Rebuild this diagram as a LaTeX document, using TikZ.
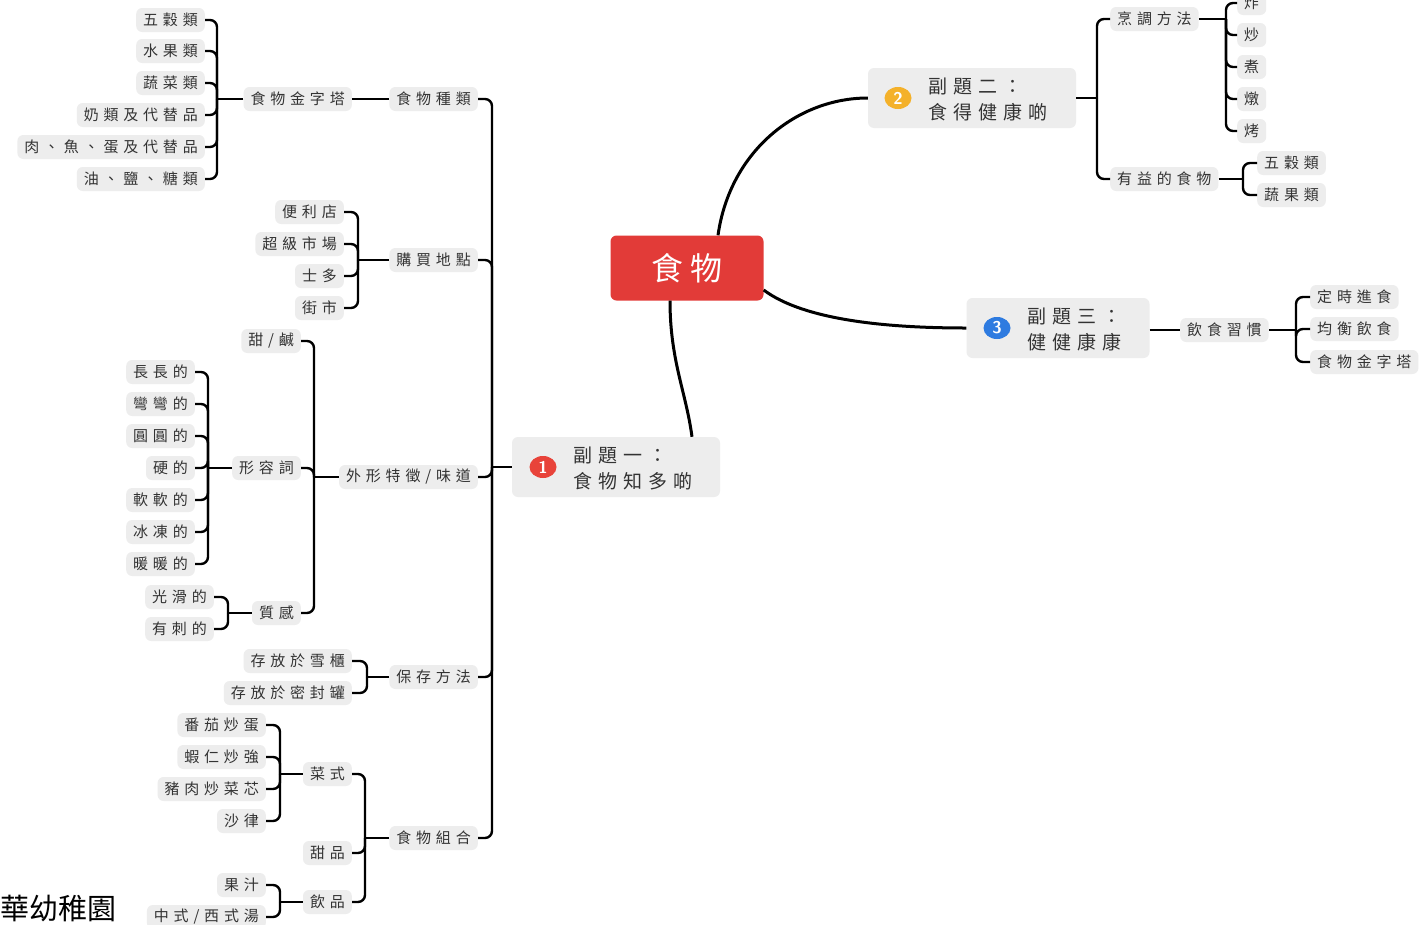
\documentclass[tikz,border=0pt]{standalone}
\usepackage{fontspec}
\newfontfamily\cjk[LetterSpace=32]{Noto Sans CJK TC}
\newfontfamily\cjkroot[LetterSpace=22]{Noto Sans CJK TC}
\newfontfamily\cjkplain{Noto Sans CJK TC}
\usetikzlibrary{calc,shapes.geometric}
\definecolor{boxgray}{HTML}{EDEDED}
\definecolor{txtgray}{HTML}{333333}
\definecolor{rootred}{HTML}{E23B38}
\definecolor{iconred}{HTML}{E8433A}
\definecolor{iconorange}{HTML}{F4B12A}
\definecolor{iconblue}{HTML}{2E7BE0}
\begin{document}
\begin{tikzpicture}[x=1pt,y=-1pt,
  leaf/.style={fill=boxgray, rounded corners=6pt, text=txtgray,
    font=\cjk\fontsize{15}{17}\selectfont, minimum height=24pt,
    inner xsep=7pt, inner ysep=0pt},
  lft/.style={leaf, anchor=east},
  rgt/.style={leaf, anchor=west},
  conn/.style={line width=2.4pt, rounded corners=7pt},
  curve/.style={line width=3pt},
  root/.style={fill=rootred, rounded corners=6pt, text=white,
    font=\cjkroot\fontsize{32}{34}\selectfont, minimum width=153pt, minimum height=65pt},
  subbox/.style={fill=boxgray, rounded corners=6pt, minimum height=60pt},
  subtxt/.style={anchor=west, align=left, text=txtgray, inner sep=0pt,
    font=\cjk\fontsize{19}{26}\selectfont},
  icon/.style={ellipse, minimum width=27pt, minimum height=22pt, inner sep=0pt,
    text=white, font=\sffamily\bfseries\fontsize{17}{17}\selectfont}
]
\useasboundingbox (0,0) rectangle (1421,924);
\fill[white] (0,0) rectangle (1421,924);

% ---------- root and subtopics ----------
\node[root] (root) at (687,268) {食物};

\node[subbox, minimum width=208pt] (s1) at (616,467) {};
\node[icon, fill=iconred] (s1i) at (543,467) {1};
\node[subtxt] (s1t) at (573,468) {副題一：\\食物知多啲};

\node[subbox, minimum width=208pt] (s2) at (972,98) {};
\node[icon, fill=iconorange] (s2i) at (898,98) {2};
\node[subtxt] (s2t) at (928,99) {副題二：\\食得健康啲};

\node[subbox, minimum width=183pt] (s3) at (1058,328) {};
\node[icon, fill=iconblue] (s3i) at (997,328) {3};
\node[subtxt] (s3t) at (1027,329) {副題三：\\健健康康};

\draw[curve] ($(root.south)+(-17,0)$) .. controls +(0,60) and +(-6,-45) .. ($(s1.north)+(76,0)$);
\draw[curve] ($(root.north)+(31,0)$) .. controls +(12,-85) and +(-70,0) .. (s2.west);
\draw[curve] ($(root.east)+(0,22)$) .. controls +(40,30) and +(-80,0) .. (s3.west);

% ---------- branch 1 ----------
\node[lft] (a) at (478,99) {食物種類};
\node[lft] (b) at (478,260) {購買地點};
\node[lft] (c) at (478,477) {外形特徵/味道};
\node[lft] (d) at (478,677) {保存方法};
\node[lft] (e) at (478,838) {食物組合};

\coordinate (m1) at (492,467);
\draw[conn] (s1.west) -- (m1);
\foreach \n in {a,b,c,d,e} \draw[conn] (m1) |- (\n.east);

% 食物種類
\node[lft] (a1) at (352,99) {食物金字塔};
\draw[conn] (a.west) -- (a1.east);
\node[lft] (a1a) at (205,20) {五穀類};
\node[lft] (a1b) at (205,51) {水果類};
\node[lft] (a1c) at (205,83) {蔬菜類};
\node[lft] (a1d) at (205,115) {奶類及代替品};
\node[lft] (a1e) at (205,147) {肉、魚、蛋及代替品};
\node[lft] (a1f) at (205,179) {油、鹽、糖類};
\coordinate (ba1) at (217,99);
\draw[conn] (a1.west) -- (ba1);
\foreach \n in {a1a,a1b,a1c,a1d,a1e,a1f} \draw[conn] (ba1) |- (\n.east);

% 購買地點
\node[lft] (b1) at (344,212) {便利店};
\node[lft] (b2) at (344,244) {超級市場};
\node[lft] (b3) at (344,276) {士多};
\node[lft] (b4) at (344,308) {街市};
\coordinate (bb) at (358,260);
\draw[conn] (b.west) -- (bb);
\foreach \n in {b1,b2,b3,b4} \draw[conn] (bb) |- (\n.east);

% 外形特徵/味道
\node[lft] (c1) at (301,341) {甜/鹹};
\node[lft] (c2) at (301,468) {形容詞};
\node[lft] (c3) at (301,613) {質感};
\coordinate (bc) at (314,477);
\draw[conn] (c.west) -- (bc);
\foreach \n in {c1,c2,c3} \draw[conn] (bc) |- (\n.east);

\node[lft] (c2a) at (195,372) {長長的};
\node[lft] (c2b) at (195,404) {彎彎的};
\node[lft] (c2c) at (195,436) {圓圓的};
\node[lft] (c2d) at (195,468) {硬的};
\node[lft] (c2e) at (195,500) {軟軟的};
\node[lft] (c2f) at (195,532) {冰凍的};
\node[lft] (c2g) at (195,564) {暖暖的};
\coordinate (bc2) at (208,468);
\draw[conn] (c2.west) -- (bc2);
\foreach \n in {c2a,c2b,c2c,c2d,c2e,c2f,c2g} \draw[conn] (bc2) |- (\n.east);

\node[lft] (c3a) at (214,597) {光滑的};
\node[lft] (c3b) at (214,629) {有刺的};
\coordinate (bc3) at (228,613);
\draw[conn] (c3.west) -- (bc3);
\foreach \n in {c3a,c3b} \draw[conn] (bc3) |- (\n.east);

% 保存方法
\node[lft] (d1) at (352,661) {存放於雪櫃};
\node[lft] (d2) at (352,693) {存放於密封罐};
\coordinate (bd) at (367,677);
\draw[conn] (d.west) -- (bd);
\foreach \n in {d1,d2} \draw[conn] (bd) |- (\n.east);

% 食物組合
\node[lft] (e1) at (352,774) {菜式};
\node[lft] (e2) at (352,853) {甜品};
\node[lft] (e3) at (352,902) {飲品};
\coordinate (be) at (365,838);
\draw[conn] (e.west) -- (be);
\foreach \n in {e1,e2,e3} \draw[conn] (be) |- (\n.east);

\node[lft] (e1a) at (266,725) {番茄炒蛋};
\node[lft] (e1b) at (266,757) {蝦仁炒強};
\node[lft] (e1c) at (266,789) {豬肉炒菜芯};
\node[lft] (e1d) at (266,821) {沙律};
\coordinate (be1) at (280,774);
\draw[conn] (e1.west) -- (be1);
\foreach \n in {e1a,e1b,e1c,e1d} \draw[conn] (be1) |- (\n.east);

\node[lft] (e3a) at (266,885) {果汁};
\node[lft] (e3b) at (266,917) {中式/西式湯};
\coordinate (be3) at (280,902);
\draw[conn] (e3.west) -- (be3);
\foreach \n in {e3a,e3b} \draw[conn] (be3) |- (\n.east);

% ---------- branch 2 ----------
\node[rgt] (f) at (1110,19) {烹調方法};
\node[rgt] (g) at (1110,179) {有益的食物};
\coordinate (m2) at (1097,98);
\draw[conn] (s2.east) -- (m2);
\foreach \n in {f,g} \draw[conn] (m2) |- (\n.west);

\node[rgt] (f1) at (1237,3) {炸};
\node[rgt] (f2) at (1237,35) {炒};
\node[rgt] (f3) at (1237,67) {煮};
\node[rgt] (f4) at (1237,99) {燉};
\node[rgt] (f5) at (1237,131) {烤};
\coordinate (bf) at (1226,19);
\draw[conn] (f.east) -- (bf);
\foreach \n in {f1,f2,f3,f4,f5} \draw[conn] (bf) |- (\n.west);

\node[rgt] (g1) at (1257,163) {五穀類};
\node[rgt] (g2) at (1257,195) {蔬果類};
\coordinate (bg) at (1243,179);
\draw[conn] (g.east) -- (bg);
\foreach \n in {g1,g2} \draw[conn] (bg) |- (\n.west);

% ---------- branch 3 ----------
\node[rgt] (h) at (1180,330) {飲食習慣};
\draw[conn] ($(s3.east)+(0,2)$) -- (h.west);
\node[rgt] (h1) at (1310,297) {定時進食};
\node[rgt] (h2) at (1310,329) {均衡飲食};
\node[rgt] (h3) at (1310,362) {食物金字塔};
\coordinate (bh) at (1296,330);
\draw[conn] (h.east) -- (bh);
\foreach \n in {h1,h2,h3} \draw[conn] (bh) |- (\n.west);

% ---------- footer text ----------
\node[anchor=west, inner sep=0pt, text=black, font=\cjkplain\fontsize{29}{29}\selectfont] (school) at (0,909) {華幼稚園};
\end{tikzpicture}
\end{document}
